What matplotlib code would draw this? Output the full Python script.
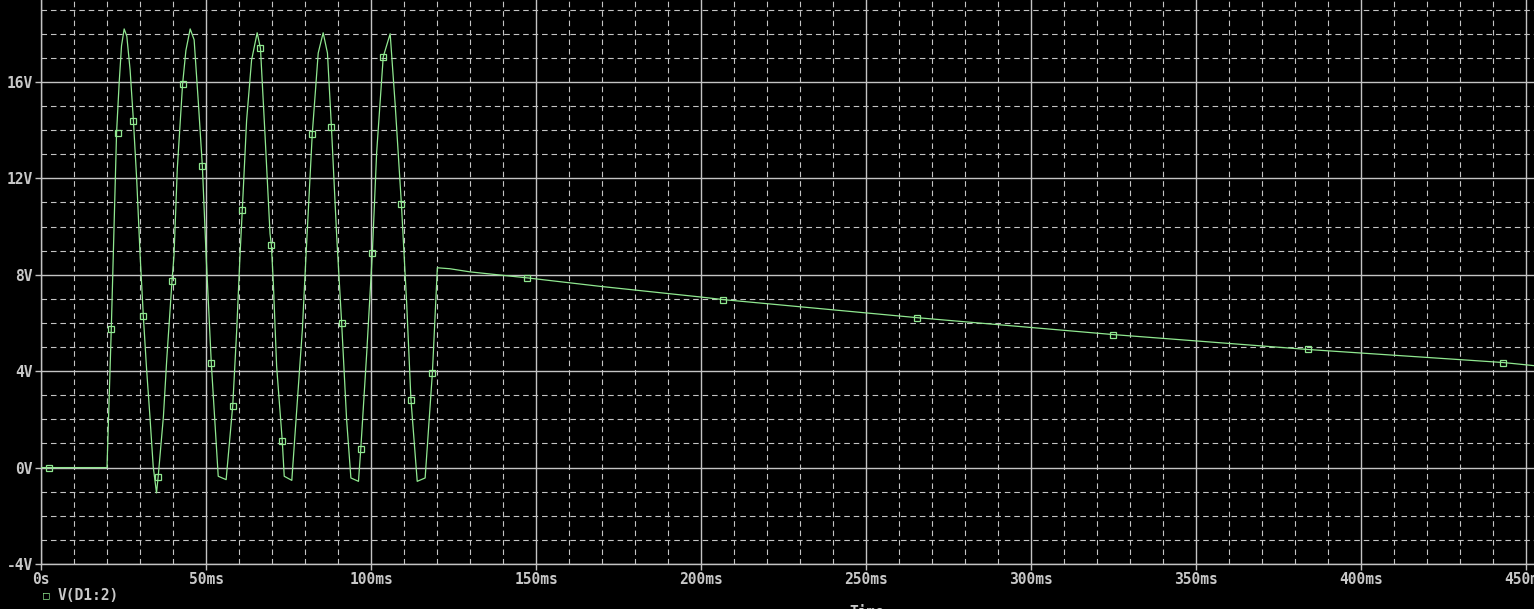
import matplotlib
matplotlib.use("Agg")
import matplotlib.pyplot as plt
from matplotlib.ticker import MultipleLocator, FixedLocator

# ============================
# Datos (tiempo en ms, tension en V)
# ============================

t_ms = [0.0, 20.0, 21.3, 21.9, 22.9, 23.7, 24.4, 25.2, 26.0, 27.0, 28.0, 29.0, 30.0,
        31.0, 32.0, 33.0, 34.0, 35.0, 35.5, 37.1, 38.1, 39.7, 40.3, 41.3, 42.9, 43.9,
        45.2, 46.4, 47.7, 48.9, 50.0, 51.6, 53.7, 56.1, 58.1, 59.3, 60.3, 61.0, 62.3,
        63.8, 65.5, 66.5, 67.9, 69.4, 69.8, 70.4, 71.4, 73.1, 73.7, 76.0, 77.0, 79.2,
        80.3, 82.2, 84.0, 85.5, 86.8, 88.0, 89.6, 91.1, 92.6, 93.9, 96.2, 96.9, 98.7,
        100.4, 101.7, 103.7, 105.8, 107.3, 109.2, 110.8, 112.1, 114.0, 116.4, 118.6,
        120.1, 123.9, 130.0, 147.4, 169.4, 199.7, 206.7, 265.5, 324.8, 383.9, 443.0, 452.4]
v_volts = [0.0, 0.0, 5.75, 8.8, 13.9, 16.0, 17.5, 18.2, 17.9, 16.5, 14.4, 11.95, 8.9,
           6.3, 4.07, 2.13, 0.05, -1.05, -0.39, 2.13, 4.48, 7.75, 8.8, 12.4, 15.9, 17.3,
           18.2, 17.75, 15.1, 12.5, 8.9, 4.34, -0.36, -0.5, 2.57, 5.7, 8.8, 10.7, 14.4,
           16.9, 18.04, 17.4, 13.75, 9.7, 9.24, 7.66, 4.2, 1.12, -0.36, -0.53, 1.44, 5.73,
           8.8, 13.85, 17.2, 18.04, 17.2, 14.14, 9.6, 6.0, 2.0, -0.43, -0.57, 0.78, 4.76,
           8.9, 13.06, 17.04, 18.0, 15.1, 10.95, 6.83, 2.82, -0.57, -0.43, 3.93,
           8.29, 8.25, 8.12, 7.87, 7.52, 7.08, 6.97, 6.22, 5.52, 4.90, 4.36, 4.23]

# Marcadores (cuadrados) sobre la curva
mark_t = [2.4, 21.3, 23.3, 28.0, 31.0, 35.5, 39.7, 42.9, 48.9, 51.6, 58.1, 61.0, 66.5,
          69.8, 73.1, 82.2, 88.0, 91.1, 96.9, 100.4, 103.7, 109.2, 112.1, 118.6,
          147.4, 206.7, 265.5, 324.8, 383.9, 443.0]
mark_v = [0.0, 5.75, 13.9, 14.4, 6.3, -0.39, 7.75, 15.9, 12.5, 4.34, 2.57, 10.7, 17.4,
          9.24, 1.12, 13.85, 14.14, 6.0, 0.78, 8.9, 17.04, 10.95, 2.82, 3.93,
          7.87, 6.97, 6.22, 5.52, 4.90, 4.36]

x_ticks = [0, 50, 100, 150, 200, 250, 300, 350, 400, 450]
x_labels = ["0s", "50ms", "100ms", "150ms", "200ms", "250ms", "300ms", "350ms", "400ms", "450ms"]
y_ticks = [-4, 0, 4, 8, 12, 16]
y_labels = ["-4V", "0V", "4V", "8V", "12V", "16V"]

# ============================
# Figura
# ============================

grid_col = "#c4c4c4"
trace_col = "#90e890"
font_mono = "DejaVu Sans Mono"

fig = plt.figure(figsize=(15.34, 6.09), dpi=100, facecolor="black")
ax = fig.add_axes([41/1534, 45/609, 1 - 41/1534, 564/609])
ax.set_facecolor("black")

ax.set_xlim(0, 452.4)
ax.set_ylim(-4, 19.4)

# Rejilla mayor (solida) y menor (discontinua)
ax.xaxis.set_major_locator(FixedLocator(x_ticks))
ax.yaxis.set_major_locator(FixedLocator(y_ticks))
ax.xaxis.set_minor_locator(MultipleLocator(10))
ax.yaxis.set_minor_locator(MultipleLocator(1))
ax.grid(which="major", color=grid_col, linewidth=1.0, linestyle="-")
ax.grid(which="minor", color=grid_col, linewidth=0.8, linestyle=(0, (5, 3.5)))
ax.set_axisbelow(True)

ax.plot(t_ms, v_volts, color=trace_col, linewidth=0.9, zorder=3)
ax.plot(mark_t, mark_v, linestyle="none", marker="s", markersize=4.2,
        markerfacecolor="none", markeredgecolor=trace_col, markeredgewidth=0.9, zorder=4)

for side in ["top", "right"]:
    ax.spines[side].set_visible(False)
for side in ["left", "bottom"]:
    ax.spines[side].set_color(grid_col)
    ax.spines[side].set_linewidth(1.0)

ax.set_xticklabels(x_labels)
ax.set_yticklabels(y_labels)
ax.tick_params(which="major", direction="out", length=4, width=1, color=grid_col,
               labelcolor="#c8c8c8", labelsize=10.5, pad=2)
ax.tick_params(which="minor", length=0)
for lab in ax.get_xticklabels() + ax.get_yticklabels():
    lab.set_fontfamily(font_mono)
    lab.set_fontweight("bold")

# Leyenda y titulo del eje
fig.text(46/1534, 1 - 595/609, "\u25a1", color=trace_col, fontsize=8,
         ha="center", va="center", fontfamily=font_mono)
fig.text(58/1534, 1 - 595/609, "V(D1:2)", color="#c8c8c8", fontsize=10.5,
         ha="left", va="center", fontfamily=font_mono, fontweight="bold")
fig.text(867/1534, 1 - 612/609, "Time", color="#c8c8c8", fontsize=10.5,
         ha="center", va="center", fontfamily=font_mono, fontweight="bold")

fig.savefig("out.png", dpi=100, facecolor="black")
